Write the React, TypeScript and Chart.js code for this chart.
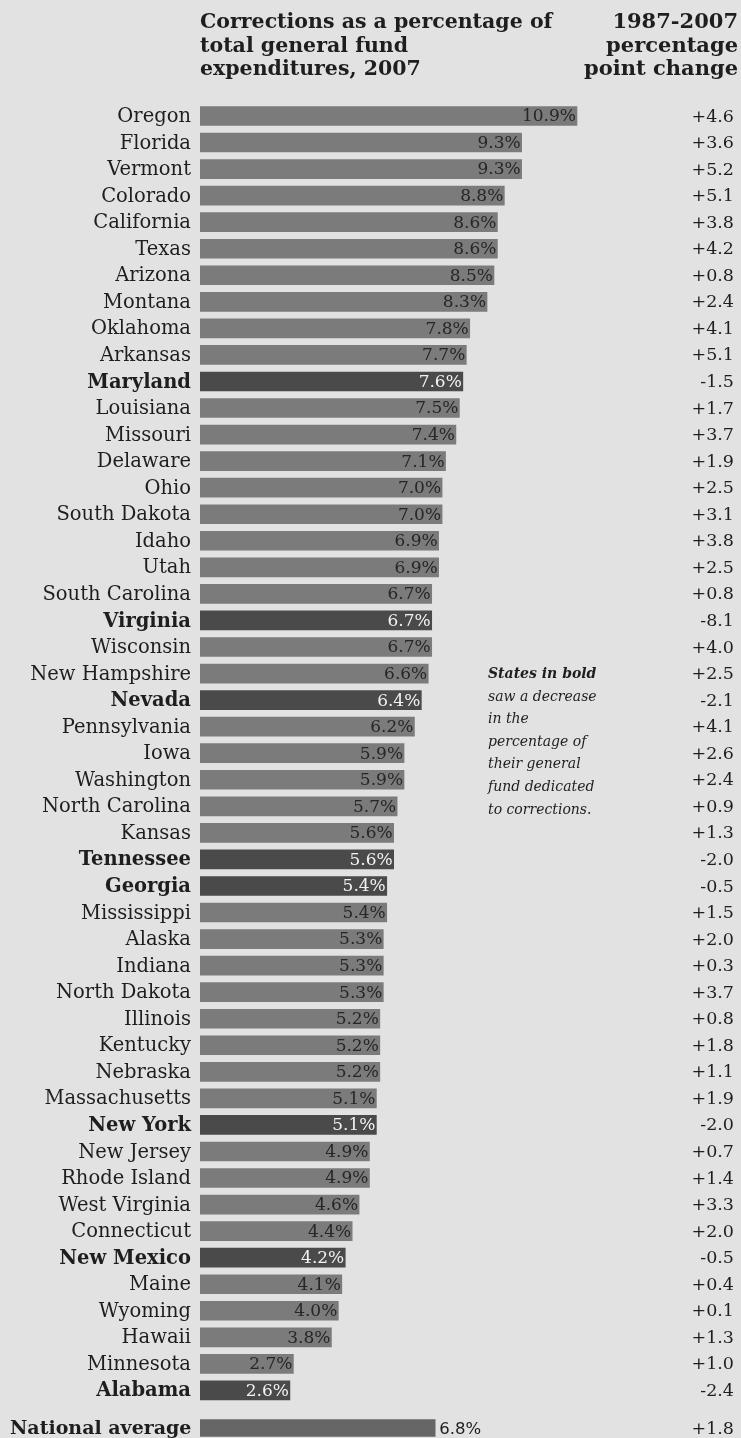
import React, { useEffect, useRef } from "react";
import { Chart, registerables } from "chart.js";

Chart.register(...registerables);

const states = [
  "Oregon", "Florida", "Vermont", "Colorado", "California", "Texas", "Arizona", "Montana",
  "Oklahoma", "Arkansas", "Maryland", "Louisiana", "Missouri", "Delaware", "Ohio",
  "South Dakota", "Idaho", "Utah", "South Carolina", "Virginia", "Wisconsin", "New Hampshire",
  "Nevada", "Pennsylvania", "Iowa", "Washington", "North Carolina", "Kansas", "Tennessee",
  "Georgia", "Mississippi", "Alaska", "Indiana", "North Dakota", "Illinois", "Kentucky",
  "Nebraska", "Massachusetts", "New York", "New Jersey", "Rhode Island", "West Virginia",
  "Connecticut", "New Mexico", "Maine", "Wyoming", "Hawaii", "Minnesota", "Alabama",
];

const shares = [
  10.9, 9.3, 9.3, 8.8, 8.6, 8.6, 8.5, 8.3, 7.8, 7.7, 7.6, 7.5, 7.4, 7.1, 7.0, 7.0, 6.9, 6.9,
  6.7, 6.7, 6.7, 6.6, 6.4, 6.2, 5.9, 5.9, 5.7, 5.6, 5.6, 5.4, 5.4, 5.3, 5.3, 5.3, 5.2, 5.2,
  5.2, 5.1, 5.1, 4.9, 4.9, 4.6, 4.4, 4.2, 4.1, 4.0, 3.8, 2.7, 2.6,
];

const changes = [
  4.6, 3.6, 5.2, 5.1, 3.8, 4.2, 0.8, 2.4, 4.1, 5.1, -1.5, 1.7, 3.7, 1.9, 2.5, 3.1, 3.8, 2.5,
  0.8, -8.1, 4.0, 2.5, -2.1, 4.1, 2.6, 2.4, 0.9, 1.3, -2.0, -0.5, 1.5, 2.0, 0.3, 3.7, 0.8, 1.8,
  1.1, 1.9, -2.0, 0.7, 1.4, 3.3, 2.0, -0.5, 0.4, 0.1, 1.3, 1.0, -2.4,
];

const nationalLabels = ["National average"];
const nationalShares = [6.8];
const nationalChanges = [1.8];

const titleLines = ["Corrections as a percentage of", "total general fund", "expenditures, 2007"];
const changeHeaderLines = ["1987-2007", "percentage", "point change"];
const noteLines = [
  "States in bold", "saw a decrease", "in the", "percentage of", "their general",
  "fund dedicated", "to corrections.",
];

const SERIF = '"DejaVu Serif", serif';
const SANS = '"DejaVu Sans", sans-serif';
const BG = "#e2e2e2";
const BAR = "#7b7b7b";
const BAR_DEC = "#4a4a4a";
const BAR_NAT = "#666666";
const TEXT = "#1e1e1e";
const X_MAX = 12;
const LEFT = 200;
const RIGHT_PAD = 126;

function fmtChange(v: number) {
  return (v < 0 ? "-" : "+") + Math.abs(v).toFixed(1);
}

const mainTextPlugin = {
  id: "mainText",
  afterDatasetsDraw(chart: any) {
    const ctx = chart.ctx as CanvasRenderingContext2D;
    const meta = chart.getDatasetMeta(0);
    ctx.save();
    // title
    ctx.fillStyle = TEXT;
    ctx.textBaseline = "alphabetic";
    ctx.textAlign = "left";
    ctx.font = `bold 20.5px ${SERIF}`;
    titleLines.forEach((t, i) => ctx.fillText(t, 200, 28 + i * 23.5));
    ctx.textAlign = "right";
    ctx.font = `600 21px ${SERIF}`;
    changeHeaderLines.forEach((t, i) => ctx.fillText(t, 738, 28 + i * 23.5));

    // note
    ctx.textAlign = "left";
    noteLines.forEach((t, i) => {
      ctx.font = i === 0 ? `italic bold 14px ${SERIF}` : `italic 14px ${SERIF}`;
      ctx.fillText(t, 488, 678 + i * 22.6);
    });

    // rows
    ctx.textBaseline = "middle";
    states.forEach((name, i) => {
      const bar = meta.data[i];
      const y = bar.y;
      const dec = changes[i] < 0;
      ctx.fillStyle = TEXT;
      ctx.textAlign = "right";
      ctx.font = `${dec ? "bold " : ""}19.5px ${SERIF}`;
      ctx.fillText(name, 191, y + 1);
      ctx.font = `17px ${SERIF}`;
      ctx.fillStyle = dec ? "#f2f2f2" : "#262626";
      ctx.fillText(shares[i].toFixed(1) + "%", bar.x - 1, y + 1);
      ctx.fillStyle = TEXT;
      ctx.font = `17.5px ${SERIF}`;
      ctx.fillText(fmtChange(changes[i]), 734, y + 1);
    });
    ctx.restore();
  },
};

const natTextPlugin = {
  id: "natText",
  afterDatasetsDraw(chart: any) {
    const ctx = chart.ctx as CanvasRenderingContext2D;
    const meta = chart.getDatasetMeta(0);
    ctx.save();
    ctx.textBaseline = "middle";
    nationalLabels.forEach((name, i) => {
      const bar = meta.data[i];
      const y = bar.y;
      ctx.fillStyle = TEXT;
      ctx.textAlign = "left";
      ctx.font = `bold 19px ${SERIF}`;
      ctx.fillText(name, 10, y + 1);
      ctx.font = `16.5px ${SANS}`;
      ctx.fillText(nationalShares[i].toFixed(1) + "%", bar.x + 4, y + 2);
      ctx.textAlign = "right";
      ctx.font = `17.5px ${SERIF}`;
      ctx.fillText(fmtChange(nationalChanges[i]), 734, y + 1);
    });
    ctx.restore();
  },
};

function baseOptions(padTop: number, padBottom: number) {
  return {
    indexAxis: "y" as const,
    responsive: false,
    animation: false as const,
    maintainAspectRatio: false,
    layout: { padding: { left: LEFT, right: RIGHT_PAD, top: padTop, bottom: padBottom } },
    plugins: { legend: { display: false }, tooltip: { enabled: false }, title: { display: false } },
    scales: {
      x: { display: false, min: 0, max: X_MAX },
      y: { display: false, offset: true, grid: { display: false } },
    },
  };
}

export default function App() {
  const mainRef = useRef<HTMLCanvasElement>(null);
  const natRef = useRef<HTMLCanvasElement>(null);

  useEffect(() => {
    const main = new Chart(mainRef.current!, {
      type: "bar",
      data: {
        labels: states,
        datasets: [
          {
            data: shares,
            backgroundColor: changes.map((c) => (c < 0 ? BAR_DEC : BAR)),
            borderWidth: 0,
            barThickness: 19,
          },
        ],
      },
      options: baseOptions(102.7, 8.3) as any,
      plugins: [mainTextPlugin],
    });
    const nat = new Chart(natRef.current!, {
      type: "bar",
      data: {
        labels: nationalLabels,
        datasets: [
          {
            data: nationalShares,
            backgroundColor: BAR_NAT,
            borderWidth: 0,
            barThickness: 17,
          },
        ],
      },
      options: baseOptions(6, 0) as any,
      plugins: [natTextPlugin],
    });
    return () => {
      main.destroy();
      nat.destroy();
    };
  }, []);

  return (
    <div
      style={{
        position: "absolute",
        left: 0,
        top: 0,
        width: 741,
        height: 1438,
        background: BG,
        overflow: "hidden",
      }}
    >
      <canvas
        ref={mainRef}
        width={741}
        height={1412}
        style={{ position: "absolute", left: 0, top: 0, width: 741, height: 1412 }}
      />
      <canvas
        ref={natRef}
        width={741}
        height={26}
        style={{ position: "absolute", left: 0, top: 1412, width: 741, height: 26 }}
      />
    </div>
  );
}
